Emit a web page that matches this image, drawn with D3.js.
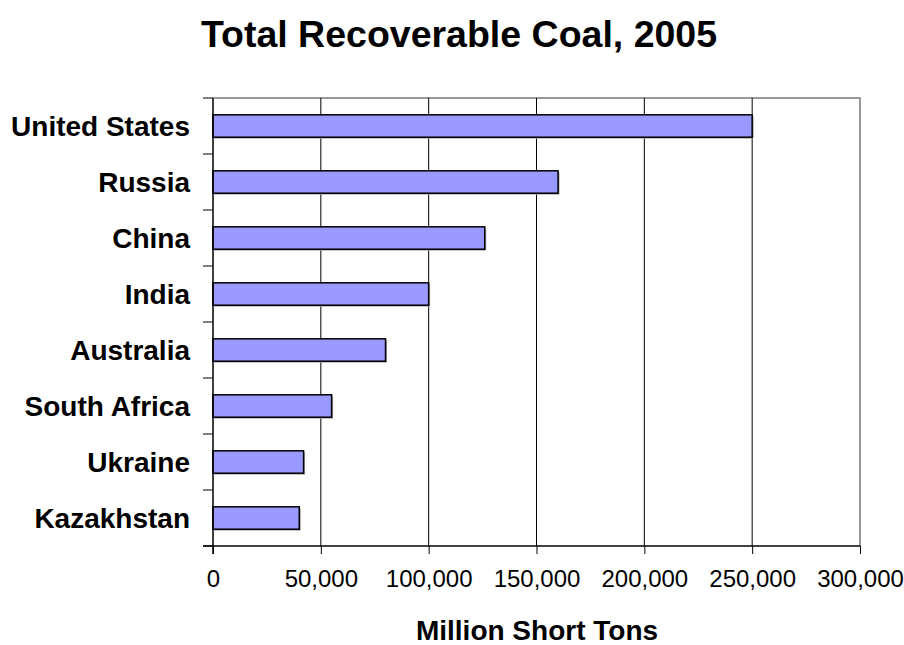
<!DOCTYPE html>
<html><head><meta charset="utf-8">
<script src="https://cdn.jsdelivr.net/npm/d3@7"></script>
<style>html,body{margin:0;padding:0;background:#fff;overflow:hidden;} svg{display:block;font-family:"Liberation Sans",Arial,sans-serif;}</style>
</head><body>
<script>
const categories = ["United States","Russia","China","India","Australia","South Africa","Ukraine","Kazakhstan"];
const values = [250000,160000,126000,100000,80000,55000,42000,40000];
const xTicks = [0,50000,100000,150000,200000,250000,300000];
const title = "Total Recoverable Coal, 2005";
const xTitle = "Million Short Tons";

const W=904,H=645;
const m={left:213,right:44,top:98,bottom:99};
const svg=d3.select("body").append("svg").attr("width",W).attr("height",H);
const x=d3.scaleLinear().domain([0,300000]).range([m.left,W-m.right]);
const y=d3.scaleBand().domain(categories).range([m.top,H-m.bottom]).paddingInner(0.6).paddingOuter(0.3);
const yb=d3.scaleBand().domain(categories).range([m.top,H-m.bottom]);

// plot border (gray top/right)
svg.append("path").attr("d",`M${x(0)},${m.top}H${x(300000)}V${H-m.bottom}`)
  .attr("fill","none").attr("stroke","#999").attr("stroke-width",2);

// gridlines
svg.append("g").selectAll("line").data(xTicks.slice(1,-1)).join("line")
  .attr("x1",d=>x(d)).attr("x2",d=>x(d)).attr("y1",m.top).attr("y2",H-m.bottom)
  .attr("stroke","#000").attr("stroke-width",1);

// bar shadows
svg.append("g").selectAll("rect").data(values).join("rect")
  .attr("x",x(0)+1.5).attr("y",(d,i)=>y(categories[i])+1.5)
  .attr("width",d=>x(d)-x(0)).attr("height",y.bandwidth())
  .attr("fill","#aaa");
// bars
svg.append("g").selectAll("rect").data(values).join("rect")
  .attr("x",x(0)).attr("y",(d,i)=>y(categories[i]))
  .attr("width",d=>x(d)-x(0)).attr("height",y.bandwidth())
  .attr("fill","#9999ff").attr("stroke","#000").attr("stroke-width",1.5);

// x axis
const xa=svg.append("g").attr("transform",`translate(0,${H-m.bottom})`)
  .call(d3.axisBottom(x).tickValues(xTicks).tickSize(8).tickPadding(16).tickFormat(d3.format(",")));
xa.select(".domain").attr("stroke","#000").attr("stroke-width",1.5).attr("d",`M${x(0)-10},0H${x(300000)}`);
xa.selectAll(".tick line").attr("stroke","#000");
xa.selectAll("text").attr("font-size",24).attr("font-family","Liberation Sans, Arial, sans-serif").attr("fill","#000");

// y axis
const ya=svg.append("g").attr("transform",`translate(${m.left},0)`);
ya.append("line").attr("x1",0).attr("x2",0).attr("y1",m.top).attr("y2",H-m.bottom+8).attr("stroke","#000").attr("stroke-width",1.5);
const bounds=categories.map(c=>yb(c)).concat([H-m.bottom]);
ya.selectAll("line.t").data(bounds).join("line").attr("class","t")
  .attr("x1",-10).attr("x2",0).attr("y1",d=>d).attr("y2",d=>d).attr("stroke","#000").attr("stroke-width",1);
ya.selectAll("text").data(categories).join("text")
  .attr("x",-23).attr("y",d=>yb(d)+yb.bandwidth()/2).attr("dy","0.36em")
  .attr("text-anchor","end").attr("font-weight","bold").attr("font-size",28).text(d=>d);

// titles
svg.append("text").attr("x",459).attr("y",47).attr("text-anchor","middle")
  .attr("font-weight","bold").attr("font-size",37.5).text(title);
svg.append("text").attr("x",537).attr("y",640).attr("text-anchor","middle")
  .attr("font-weight","bold").attr("font-size",28).text(xTitle);
</script>
</body></html>
